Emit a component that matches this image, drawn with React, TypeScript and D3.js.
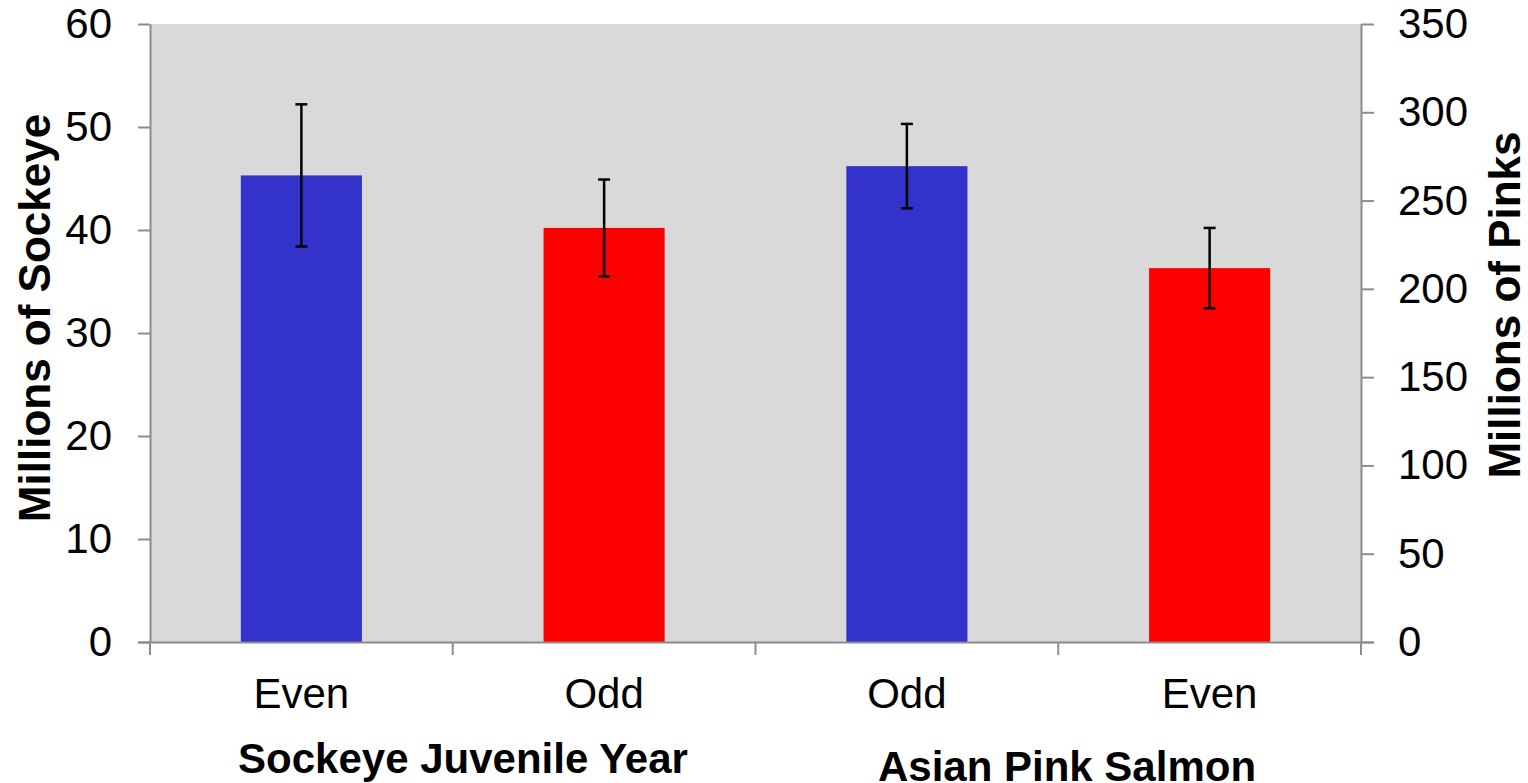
import * as d3 from "d3";
import { useEffect, useRef } from "react";

const categories = ["Even", "Odd", "Odd", "Even"];
const values = [45.3, 40.2, 46.2, 36.3];
const errors = [6.9, 4.7, 4.1, 3.9];
const barColors = ["#3333cc", "#ff0000", "#3333cc", "#ff0000"];
const leftTicks = [0, 10, 20, 30, 40, 50, 60];
const rightTicks = [0, 50, 100, 150, 200, 250, 300, 350];

const WIDTH = 1528;
const HEIGHT = 783;
// plot bounds in page coords (svg is pinned to the top-left corner)
const PLOT = { left: 150, right: 1361, top: 24, bottom: 642 };
const FONT = "Liberation Sans, Arial, sans-serif";
const AXIS_COLOR = "#8c8c8c";

export const SalmonChart = () => {
  const axesRef = useRef<SVGGElement>(null);

  const xScale = d3
    .scaleBand<number>()
    .domain(d3.range(categories.length))
    .range([PLOT.left, PLOT.right])
    .paddingInner(0.6)
    .paddingOuter(0.3);
  const yScale = d3.scaleLinear().domain([0, 60]).range([PLOT.bottom, PLOT.top]);
  const yRight = d3.scaleLinear().domain([0, 350]).range([PLOT.bottom, PLOT.top]);
  const step = xScale.step();

  useEffect(() => {
    const g = d3.select(axesRef.current);
    g.selectAll("*").remove();

    const left = g
      .append("g")
      .attr("transform", `translate(${PLOT.left},0)`)
      .call(d3.axisLeft(yScale).tickValues(leftTicks).tickSize(12).tickPadding(26).tickSizeOuter(0));
    const right = g
      .append("g")
      .attr("transform", `translate(${PLOT.right},0)`)
      .call(d3.axisRight(yRight).tickValues(rightTicks).tickSize(13).tickPadding(24).tickSizeOuter(0));

    // bottom axis: ticks at band boundaries, labels at band centres
    const bottom = g.append("g");
    bottom
      .append("line")
      .attr("x1", PLOT.left - 12)
      .attr("x2", PLOT.right + 13)
      .attr("y1", PLOT.bottom + 0.5)
      .attr("y2", PLOT.bottom + 0.5);
    const bounds = d3.range(categories.length + 1).map((i) => PLOT.left + i * step);
    bottom
      .selectAll("line.tick")
      .data(bounds)
      .join("line")
      .attr("class", "tick")
      .attr("x1", (d) => d)
      .attr("x2", (d) => d)
      .attr("y1", PLOT.bottom)
      .attr("y2", PLOT.bottom + 13);
    bottom
      .selectAll("text")
      .data(categories)
      .join("text")
      .attr("x", (_, i) => (xScale(i) || 0) + xScale.bandwidth() / 2)
      .attr("y", PLOT.bottom + 66)
      .attr("text-anchor", "middle")
      .text((d) => d);

    [left, right, bottom].forEach((a) => {
      a.selectAll("path, line").attr("stroke", AXIS_COLOR).attr("stroke-width", 2);
      a.selectAll("text")
        .attr("font-family", FONT)
        .attr("font-size", 42)
        .attr("fill", "#000");
      a.select(".domain").attr("stroke", AXIS_COLOR);
    });
  }, []);

  return (
    <svg
      width={WIDTH}
      height={HEIGHT}
      style={{ position: "absolute", left: 0, top: 0, display: "block" }}
    >
      <rect
        x={PLOT.left}
        y={PLOT.top}
        width={PLOT.right - PLOT.left}
        height={PLOT.bottom - PLOT.top}
        fill="#d9d9d9"
      />
      {values.map((v, i) => (
        <rect
          key={"b" + i}
          x={xScale(i)}
          y={yScale(v)}
          width={xScale.bandwidth()}
          height={PLOT.bottom - yScale(v)}
          fill={barColors[i]}
        />
      ))}
      {values.map((v, i) => {
        const cx = (xScale(i) || 0) + xScale.bandwidth() / 2;
        const hi = yScale(v + errors[i]);
        const lo = yScale(v - errors[i]);
        return (
          <g key={"e" + i} stroke="#000" strokeWidth={2.5}>
            <line x1={cx} x2={cx} y1={hi} y2={lo} />
            <line x1={cx - 6} x2={cx + 6} y1={hi} y2={hi} />
            <line x1={cx - 6} x2={cx + 6} y1={lo} y2={lo} />
          </g>
        );
      })}
      <g ref={axesRef} />
      <text
        transform={`translate(50,318) rotate(-90)`}
        textAnchor="middle"
        fontFamily={FONT}
        fontWeight="bold"
        fontSize={44}
      >
        Millions of Sockeye
      </text>
      <text
        transform={`translate(1520,305) rotate(-90)`}
        textAnchor="middle"
        fontFamily={FONT}
        fontWeight="bold"
        fontSize={44}
      >
        Millions of Pinks
      </text>
      <text x={463} y={773} textAnchor="middle" fontFamily={FONT} fontWeight="bold" fontSize={42}>
        Sockeye Juvenile Year
      </text>
      <text x={1067} y={781} textAnchor="middle" fontFamily={FONT} fontWeight="bold" fontSize={42}>
        Asian Pink Salmon
      </text>
    </svg>
  );
};

export default function App() {
  return <SalmonChart />;
}
